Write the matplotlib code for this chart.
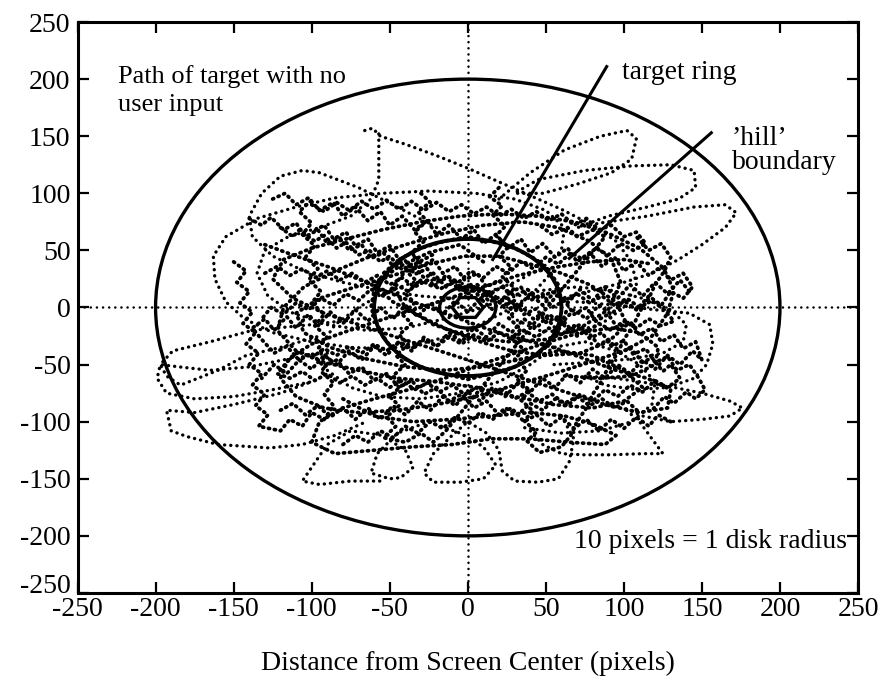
import numpy as np
import matplotlib
matplotlib.use('Agg')
import matplotlib.pyplot as plt
from matplotlib.patches import Circle, RegularPolygon
from matplotlib.transforms import ScaledTranslation

# target position samples (screen pixels from center), one list per stretch of the run
path_hook = [(-66, 155), (-61, 157), (-56, 150), (-40, 143), (-20, 133), (0, 122), (20, 110),
             (40, 98), (60, 86), (80, 72), (95, 58), (105, 40), (108, 20), (100, 0), (85, -15),
             (65, -22), (45, -20), (30, -10), (20, 5), (5, 18), (-15, 25), (-35, 22), (-55, 12),
             (-70, 0), (-85, -15), (-95, -35), (-90, -55), (-75, -70), (-55, -78), (-30, -80),
             (-5, -75), (20, -65), (40, -50), (55, -35), (75, -30), (95, -38), (110, -50),
             (120, -65), (118, -85), (105, -100), (85, -108), (60, -110), (35, -105)]

path_hook_down = [(-57, 152), (-57, 132), (-57, 112), (-62, 95), (-75, 80), (-95, 70), (-115, 62),
                  (-130, 50), (-135, 30), (-128, 10), (-112, -5), (-90, -15), (-65, -20), (-40, -18),
                  (-15, -10), (5, -2), (25, 8), (48, 15), (70, 18), (92, 15), (112, 8), (130, -2),
                  (140, -15), (138, -30), (125, -40), (105, -45), (80, -48), (55, -50)]

path_top_left = [(-20, 70), (-45, 88), (-70, 105), (-95, 118), (-106, 120), (-120, 115), (-132, 100),
                 (-140, 80), (-138, 62), (-125, 45), (-105, 32), (-80, 22), (-55, 15), (-30, 10),
                 (-10, 8), (10, 12), (30, 22), (48, 35), (60, 50), (62, 70), (50, 85), (30, 95),
                 (5, 100), (-25, 102), (-55, 100), (-85, 96), (-110, 88), (-135, 78), (-155, 62),
                 (-163, 45), (-162, 25), (-155, 5), (-143, -10), (-125, -22), (-100, -30), (-75, -35),
                 (-50, -36), (-25, -30), (0, -20), (22, -5), (40, 10), (52, 28)]

path_top_right = [(20, 95), (40, 118), (62, 138), (85, 150), (102, 155), (108, 148), (105, 130),
                  (92, 118), (70, 108), (48, 100), (30, 100), (45, 112), (75, 120), (105, 124),
                  (130, 125), (145, 120), (146, 105), (135, 95), (115, 88), (90, 80), (70, 70),
                  (85, 74), (115, 80), (145, 88), (165, 90), (172, 83), (165, 70), (150, 55),
                  (135, 42), (118, 30), (100, 22), (80, 15), (60, 8)]

path_right = [(70, 5), (95, 2), (120, -2), (142, -5), (155, -15), (157, -32), (153, -50), (145, -62),
              (128, -70), (108, -72), (88, -68), (75, -60), (95, -62), (125, -68), (150, -75),
              (168, -82), (176, -88), (168, -95), (150, -98), (130, -100), (112, -95), (100, -88),
              (110, -100), (118, -115), (125, -128), (112, -128), (92, -129), (74, -129), (60, -128),
              (48, -120), (40, -108)]

path_bottom = [(60, -95), (68, -115), (65, -135), (58, -150), (45, -153), (30, -152), (22, -143),
               (20, -125), (12, -110), (0, -100), (-10, -112), (-22, -128), (-28, -145), (-22, -153),
               (-5, -153), (10, -150), (18, -138), (10, -122), (-5, -110), (-25, -100), (-45, -110),
               (-58, -128), (-62, -145), (-50, -150), (-43, -149), (-35, -140), (-40, -125),
               (-55, -112), (-75, -108), (-90, -120), (-100, -140), (-106, -152), (-95, -155),
               (-75, -152), (-55, -152)]

path_left = [(-90, -40), (-115, -45), (-140, -52), (-165, -55), (-185, -52), (-197, -50), (-199, -62),
             (-193, -75), (-175, -80), (-150, -78), (-125, -72), (-100, -65), (-120, -75), (-150, -85),
             (-175, -92), (-193, -90), (-190, -108), (-180, -113), (-160, -120), (-127, -123),
             (-106, -120), (-85, -112), (-65, -100)]

path_left_petal = [(-70, -10), (-100, -15), (-138, -20), (-165, -30), (-189, -38), (-197, -50),
                   (-193, -60), (-184, -68), (-160, -55), (-142, -42), (-120, -35), (-95, -25)]

path_core_a = [(10, 40), (-5, 55), (-25, 48), (-45, 35), (-60, 20), (-48, 5), (-30, -8), (-12, -20),
               (8, -30), (28, -38), (50, -42), (72, -40), (90, -30), (102, -15), (95, 5), (78, 20),
               (60, 30), (40, 38), (20, 45), (-2, 45), (-25, 38), (-48, 28), (-72, 18), (-95, 8),
               (-110, -5), (-105, -22), (-88, -35), (-65, -45), (-40, -52), (-15, -55), (10, -52),
               (35, -45), (58, -38), (80, -42), (100, -55), (112, -70), (100, -82), (80, -88),
               (55, -85), (30, -78), (5, -70), (-20, -65), (-45, -62), (-70, -55), (-92, -48),
               (-110, -38), (-122, -20), (-118, 0), (-105, 18), (-85, 32), (-62, 45), (-40, 55),
               (-15, 65), (10, 72), (35, 75), (58, 70), (78, 58), (92, 42), (98, 22), (90, -2),
               (72, -18), (50, -28), (25, -30), (0, -25), (-22, -15), (-40, 0), (-48, 18),
               (-38, 35), (-20, 48)]

path_core_b = [(-130, 55), (-110, 45), (-88, 35), (-65, 22), (-45, 10), (-25, 0), (-5, -10), (15, -20),
               (35, -28), (55, -35), (75, -45), (95, -55), (115, -62), (130, -72), (128, -88),
               (110, -92), (88, -85), (65, -75), (42, -65), (20, -55), (-2, -45), (-25, -35),
               (-48, -25), (-70, -15), (-92, -5), (-112, 8), (-125, 25), (-118, 42), (-100, 52),
               (-78, 60), (-55, 68), (-30, 75), (-5, 80), (20, 82), (45, 80), (68, 75), (90, 65),
               (110, 52), (125, 35), (132, 15), (128, -5), (118, -25), (100, -38), (78, -48),
               (55, -58), (30, -68), (5, -78), (-20, -85), (-45, -90), (-70, -92), (-92, -88),
               (-110, -78), (-120, -62), (-115, -45), (-100, -32), (-80, -22), (-58, -12),
               (-35, -2), (-12, 8), (10, 18), (32, 28), (55, 35), (78, 40), (100, 42), (118, 38)]

path_core_c = [(-80, -80), (-60, -95), (-35, -100), (-10, -98), (15, -95), (40, -92), (62, -95),
               (80, -102), (95, -112), (88, -120), (65, -118), (40, -115), (15, -115), (-10, -120),
               (-35, -122), (-60, -125), (-85, -128), (-100, -118), (-95, -100), (-80, -88),
               (-60, -80), (-38, -72), (-15, -62), (8, -50), (30, -40), (52, -30), (72, -22),
               (92, -18), (110, -22), (122, -35), (120, -50), (105, -60), (85, -62), (62, -60)]

# jittery drift through the middle
path_core_d = [(-120, 70), (-112, 62), (-108, 68), (-98, 58), (-92, 63), (-84, 52), (-78, 57), (-70, 46),
               (-63, 50), (-56, 40), (-50, 45), (-42, 33), (-36, 38), (-28, 26), (-22, 30), (-14, 18),
               (-8, 23), (0, 12), (6, 16), (14, 5), (20, 9), (28, -2), (34, 2), (42, -10), (48, -5),
               (56, -18), (62, -13), (70, -25), (76, -20), (84, -33), (90, -28), (98, -40), (104, -35),
               (112, -48), (118, -44), (125, -56), (130, -50), (136, -62), (128, -70), (120, -64),
               (112, -74), (104, -68), (96, -78), (88, -72), (80, -82), (72, -76), (64, -86), (56, -80),
               (48, -90), (40, -84), (32, -94), (24, -88), (16, -98), (8, -92), (0, -102), (-8, -96),
               (-16, -106), (-24, -100), (-32, -110), (-40, -104), (-48, -114), (-56, -108),
               (-64, -118), (-72, -112), (-80, -120)]

path_core_e = [(-130, 30), (-122, 36), (-114, 28), (-106, 34), (-98, 26), (-90, 32), (-82, 24), (-74, 30),
               (-66, 22), (-58, 28), (-50, 20), (-42, 26), (-34, 18), (-26, 24), (-18, 16), (-10, 22),
               (-2, 14), (6, 20), (14, 12), (22, 18), (30, 10), (38, 16), (46, 8), (54, 14), (62, 6),
               (70, 12), (78, 4), (86, 10), (94, 2), (102, 8), (110, 0), (118, 6), (126, -2),
               (132, -12), (124, -16), (116, -10), (108, -18), (100, -12), (92, -20), (84, -14),
               (76, -22), (68, -16), (60, -24), (52, -18), (44, -26), (36, -20), (28, -28), (20, -22),
               (12, -30), (4, -24), (-4, -32), (-12, -26), (-20, -34), (-28, -28), (-36, -36),
               (-44, -30), (-52, -38), (-60, -32), (-68, -40), (-76, -34), (-84, -42), (-92, -36),
               (-100, -44), (-108, -38), (-116, -48), (-122, -58), (-114, -62), (-106, -56),
               (-98, -64), (-90, -58), (-82, -66), (-74, -60), (-66, -68), (-58, -62), (-50, -70),
               (-42, -64), (-34, -72), (-26, -66), (-18, -74), (-10, -68), (-2, -76), (6, -70),
               (14, -78), (22, -72), (30, -80), (38, -74), (46, -82), (54, -76), (62, -84), (70, -78),
               (78, -86), (86, -80), (94, -88), (102, -82), (110, -92)]

path_core_f = [(-100, 90), (-92, 84), (-84, 92), (-76, 85), (-68, 93), (-60, 86), (-52, 94), (-44, 86),
               (-36, 93), (-28, 85), (-20, 92), (-12, 84), (-4, 90), (4, 82), (12, 88), (20, 80),
               (28, 86), (36, 78), (44, 84), (52, 76), (60, 82), (68, 72), (76, 78), (84, 68),
               (92, 72), (100, 62), (108, 66), (114, 56), (106, 50), (98, 56), (90, 46), (82, 52),
               (74, 42), (66, 48), (58, 38), (50, 44), (42, 34), (34, 40), (26, 30), (18, 36),
               (10, 26), (2, 32), (-6, 22), (-14, 28), (-22, 18), (-30, 24), (-38, 14), (-46, 20),
               (-54, 10), (-62, 16), (-70, 6), (-78, 12), (-86, 2), (-94, 8), (-102, -2), (-110, 4),
               (-118, -6), (-126, 0), (-132, -10)]

path_core_g = [(-30, 100), (-24, 92), (-32, 84), (-26, 76), (-34, 66), (-28, 58), (-36, 48), (-30, 40),
               (-38, 30), (-32, 22), (-40, 12), (-34, 4), (-42, -6), (-36, -14), (-44, -24), (-38, -32),
               (-46, -42), (-40, -50), (-48, -60), (-42, -68), (-50, -78), (-44, -86), (-52, -96),
               (-46, -104), (-54, -114), (-40, -118), (-30, -110), (-22, -118), (-14, -108),
               (-8, -98), (-2, -88), (4, -78), (10, -68), (16, -58), (22, -48), (28, -38), (34, -28),
               (40, -18), (46, -8), (52, 2), (58, 12), (64, 22), (70, 32), (76, 42), (82, 52),
               (88, 62), (80, 68), (70, 62), (64, 70), (54, 64), (46, 72)]

path_core_h = [(-140, 78), (-132, 72), (-126, 79), (-118, 68), (-110, 74), (-104, 62), (-96, 68),
               (-90, 56), (-82, 61), (-76, 50), (-68, 55), (-62, 43), (-54, 48), (-48, 36), (-40, 41),
               (-34, 29), (-26, 34), (-20, 22), (-12, 27), (-6, 15), (2, 20), (8, 8), (16, 13), (22, 1),
               (30, 6), (36, -6), (44, -1), (50, -13), (58, -8), (64, -20), (72, -15), (78, -27),
               (86, -22), (92, -34), (100, -29), (106, -41), (114, -36), (120, -48), (128, -43),
               (134, -55), (142, -50), (148, -62), (152, -72), (146, -80), (140, -74), (132, -84),
               (126, -78), (118, -90)]

path_core_i = [(130, -100), (122, -94), (116, -104), (108, -96), (100, -106), (92, -98), (84, -108),
               (76, -98), (68, -106), (60, -96), (52, -104), (44, -94), (36, -100), (28, -88),
               (20, -94), (12, -82), (4, -88), (-4, -76), (-12, -82), (-20, -70), (-28, -76),
               (-36, -64), (-44, -70), (-52, -58), (-60, -64), (-68, -52), (-76, -58), (-84, -46),
               (-92, -52), (-100, -40), (-108, -46), (-116, -34), (-124, -40), (-132, -28),
               (-138, -18), (-130, -10), (-124, -20), (-116, -8), (-110, -18), (-102, -6), (-96, -16),
               (-88, -4), (-80, -14), (-72, -2), (-64, -12), (-56, 0), (-48, -10), (-40, 2), (-32, -8),
               (-24, 4), (-16, -6), (-8, 6), (0, -4), (8, 8), (16, -2), (24, 10), (32, 0), (40, 12),
               (48, 2), (56, 14), (64, 4), (72, 16), (80, 6), (88, 18), (96, 8), (104, 20), (112, 10),
               (120, 22), (128, 12), (136, 24), (142, 14)]

path_core_j = [(-125, 95), (-117, 100), (-110, 90), (-102, 96), (-95, 85), (-86, 92), (-80, 80),
               (-72, 88), (-64, 76), (-56, 84), (-50, 72), (-42, 80), (-34, 68), (-26, 76), (-20, 64),
               (-12, 72), (-4, 60), (4, 68), (10, 56), (18, 64), (26, 52), (34, 60), (40, 48),
               (48, 56), (56, 44), (64, 52), (70, 40), (78, 48), (86, 36), (94, 44), (100, 32),
               (108, 40), (116, 28), (124, 36), (130, 24), (138, 30), (144, 18), (138, 8), (130, 14),
               (124, 2), (116, 10), (108, -2), (100, 6), (92, -6), (84, 2), (76, -10), (68, -2),
               (60, -14), (52, -6), (44, -18), (36, -10), (28, -22), (20, -14), (12, -26), (4, -18),
               (-4, -30), (-12, -22), (-20, -34), (-28, -26), (-36, -38), (-44, -30), (-52, -42),
               (-60, -34), (-68, -46), (-76, -38), (-84, -50), (-92, -42), (-100, -54), (-108, -46),
               (-116, -58), (-124, -50), (-132, -62)]

path_core_k = [(-120, -90), (-112, -84), (-104, -94), (-96, -86), (-88, -96), (-80, -88), (-72, -98),
               (-64, -88), (-56, -98), (-48, -86), (-40, -94), (-32, -82), (-24, -90), (-16, -78),
               (-8, -86), (0, -74), (8, -82), (16, -70), (24, -78), (32, -66), (40, -74), (48, -62),
               (56, -70), (64, -58), (72, -66), (80, -54), (88, -62), (96, -50), (104, -58),
               (112, -46), (120, -54), (128, -42), (136, -50), (144, -38), (150, -46), (146, -30),
               (138, -36), (132, -24), (124, -30), (118, -18), (110, -24), (104, -12), (96, -18),
               (90, -6), (82, -12), (76, 0), (68, -6), (62, 6), (54, 0), (48, 12), (40, 6), (34, 18),
               (26, 12), (20, 24), (12, 18), (6, 30), (-2, 24), (-8, 36), (-16, 30), (-22, 42),
               (-30, 36), (-36, 48), (-44, 42), (-50, 54), (-58, 48), (-64, 60), (-72, 54), (-78, 66),
               (-86, 60), (-92, 72), (-100, 66)]

path_core_l = [(60, 5), (58, 20), (52, 32), (44, 42), (30, 52), (15, 58), (0, 62), (-15, 58), (-30, 52),
               (-44, 42), (-54, 30), (-60, 15), (-62, 0), (-58, -15), (-52, -30), (-42, -44),
               (-30, -52), (-15, -58), (0, -63), (15, -58), (30, -52), (44, -42), (54, -30),
               (60, -15), (64, 0)]

path_core_m = [(20, 105), (14, 97), (22, 89), (16, 81), (24, 71), (18, 63), (26, 53), (20, 45), (28, 35),
               (22, 27), (30, 17), (24, 9), (32, -1), (26, -9), (34, -19), (28, -27), (36, -37),
               (30, -45), (38, -55), (32, -63), (40, -73), (34, -81), (42, -91), (36, -99), (44, -109),
               (38, -117), (46, -127), (60, -122), (66, -112), (70, -100), (76, -88), (80, -76),
               (86, -64), (90, -52), (96, -40), (100, -28), (106, -16), (110, -4), (116, 8), (120, 20),
               (126, 32), (130, 44), (124, 56), (116, 50), (108, 62)]

path_core_n = [(-150, 40), (-142, 32), (-148, 22), (-140, 14), (-146, 4), (-138, -4), (-144, -14),
               (-136, -22), (-142, -32), (-134, -40), (-140, -50), (-132, -58), (-138, -68),
               (-130, -76), (-136, -86), (-128, -94), (-134, -104), (-120, -108), (-114, -98),
               (-106, -104), (-100, -92), (-92, -98), (-86, -86), (-92, -76), (-86, -66), (-94, -56),
               (-88, -46), (-96, -36), (-90, -26), (-98, -16), (-92, -6), (-100, 4), (-94, 14),
               (-102, 24), (-96, 34), (-104, 44), (-98, 54), (-106, 64), (-100, 74), (-108, 84),
               (-100, 94)]

outer_paths = [path_hook, path_hook_down, path_top_left, path_top_right, path_right, path_bottom,
               path_left, path_left_petal]
core_paths = [path_core_a, path_core_b, path_core_c, path_core_d, path_core_e, path_core_f,
              path_core_g, path_core_h, path_core_i, path_core_j, path_core_k, path_core_l,
              path_core_m, path_core_n]

# ring radii (pixels)
hill_radius = 200
ring_radius = 60
disk_outer = 18
disk_inner = 10

plt.rcParams['font.family'] = 'Liberation Serif'
plt.rcParams['font.size'] = 20
plt.rcParams['axes.unicode_minus'] = False

fig = plt.figure(figsize=(8.83, 6.8), dpi=100)
ax = fig.add_axes([0.0878, 0.128, 0.8839, 0.8396])

for p in outer_paths:
    xy = np.array(p)
    ax.plot(xy[:, 0], xy[:, 1], color='black', lw=2.4,
            linestyle=(0, (0.05, 1.8)), dash_capstyle='round')
for p in core_paths:
    xy = np.array(p)
    ax.plot(xy[:, 0], xy[:, 1], color='black', lw=2.7,
            linestyle=(0, (0.3, 1.3)), dash_capstyle='round')

ax.axhline(0, color='black', lw=1.8, linestyle=(0, (0.05, 2.4)), dash_capstyle='round')
ax.axvline(0, color='black', lw=1.8, linestyle=(0, (0.05, 2.4)), dash_capstyle='round')

ax.add_patch(Circle((0, 0), hill_radius, fill=False, lw=2.4, color='black'))
ax.add_patch(Circle((0, 0), ring_radius, fill=False, lw=2.8, color='black'))
ax.add_patch(Circle((0, 0), disk_outer, fill=False, lw=2.4, color='black'))
ax.add_patch(RegularPolygon((0, 0), 6, radius=disk_inner, orientation=np.pi / 6,
                            fill=False, lw=2.4, color='black'))

# pointer lines for the labels
ax.plot([89, 16], [211, 42], color='black', lw=2.2)
ax.plot([156, 65], [153, 43], color='black', lw=2.2)

ax.text(-224, 212, 'Path of target with no\nuser input', ha='left', va='top',
        fontsize=19, linespacing=1.3)
ax.text(99, 200, 'target ring', ha='left', va='baseline')
ax.text(169, 121, '\u2019hill\u2019\nboundary', ha='left', va='baseline', linespacing=0.95)
ax.text(68, -205, '10 pixels = 1 disk radius', ha='left', va='center')

ax.set_xlim(-250, 250)
ax.set_ylim(-250, 250)
ticks = np.arange(-250, 251, 50)
ax.set_xticks(ticks)
ax.set_yticks(ticks)
ax.tick_params(direction='in', length=8, width=1.6, top=True, right=True)
ax.tick_params(axis='x', pad=3)
ax.tick_params(axis='y', pad=5)
for s in ax.spines.values():
    s.set_linewidth(2.2)

# lift the bottom y label clear of the first x label
lowest = ax.get_yticklabels()[0]
lowest.set_transform(lowest.get_transform() + ScaledTranslation(0, 7 / 72, fig.dpi_scale_trans))

ax.set_xlabel('Distance from Screen Center (pixels)', labelpad=21)

plt.savefig('out.png', dpi=100)
